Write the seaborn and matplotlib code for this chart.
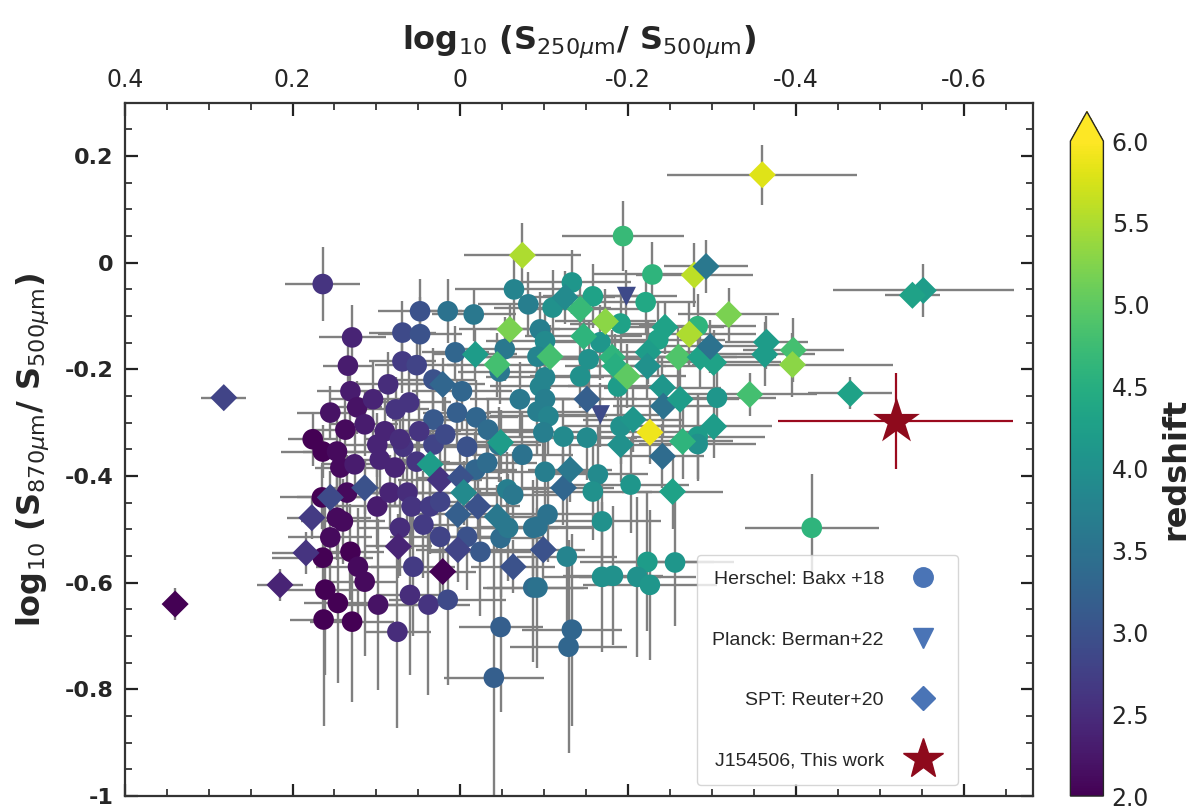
import numpy as np
import matplotlib
matplotlib.use("Agg")
import matplotlib.pyplot as plt
import seaborn as sns
from matplotlib.lines import Line2D
from matplotlib.colors import Normalize
import matplotlib.cm as cm
from matplotlib.ticker import MultipleLocator, FixedLocator, FixedFormatter

# ---------------- Herschel: Bakx+18 (circles) ----------------
h_x = [0.164, 0.129, 0.134, 0.131, 0.123, 0.137, 0.176, 0.164, 0.147, 0.143,
       0.155, 0.165, 0.147, 0.155, 0.164, 0.161, 0.146, 0.163, 0.126, 0.135,
       0.140, 0.131, 0.122, 0.114, 0.129, 0.099, 0.068, 0.032, -0.008, 0.096,
       0.078, 0.052, 0.099, 0.084, 0.063, 0.058, 0.036, 0.024, -0.056, -0.063,
       0.072, 0.044, 0.024, -0.008, -0.024, -0.048, -0.057, -0.087, 0.056, -0.087,
       0.098, 0.060, 0.038, 0.015, 0.075, -0.048, -0.040, 0.048, 0.015, -0.016,
       0.069, 0.048, 0.069, 0.052, 0.006, -0.053, -0.047, 0.032, -0.002, 0.086,
       0.104, 0.077, 0.061, 0.032, 0.004, -0.019, -0.071, 0.114, 0.090, 0.072,
       0.049, 0.018, -0.033, -0.046, -0.018, -0.032, -0.064, -0.081, -0.095, -0.133,
       -0.158, -0.110, -0.191, -0.229, -0.194, -0.101, -0.167, -0.092, -0.153, -0.143,
       -0.101, -0.188, -0.236, -0.283, -0.095, -0.101, -0.092, -0.105, -0.099, -0.123,
       -0.151, -0.191, -0.283, -0.074, -0.101, -0.164, -0.158, -0.203, -0.169, -0.104,
       -0.092, -0.127, -0.223, -0.256, -0.169, -0.182, -0.211, -0.226, -0.092, -0.133,
       -0.129, -0.419, -0.306, -0.221, -0.283]
h_y = [-0.040, -0.140, -0.193, -0.241, -0.271, -0.313, -0.331, -0.354, -0.354, -0.384,
       -0.281, -0.440, -0.478, -0.515, -0.553, -0.613, -0.638, -0.669, -0.378, -0.431,
       -0.485, -0.542, -0.570, -0.598, -0.673, -0.341, -0.345, -0.341, -0.345, -0.369,
       -0.384, -0.373, -0.457, -0.431, -0.431, -0.457, -0.457, -0.448, -0.425, -0.435,
       -0.497, -0.491, -0.514, -0.514, -0.542, -0.516, -0.497, -0.497, -0.570, -0.609,
       -0.641, -0.623, -0.641, -0.632, -0.692, -0.683, -0.778, -0.091, -0.091, -0.097,
       -0.131, -0.134, -0.185, -0.192, -0.168, -0.162, -0.204, -0.219, -0.241, -0.228,
       -0.256, -0.275, -0.262, -0.294, -0.281, -0.290, -0.256, -0.303, -0.316, -0.331,
       -0.316, -0.322, -0.313, -0.341, -0.388, -0.375, -0.050, -0.078, -0.125, -0.037,
       -0.063, -0.084, -0.114, -0.022, 0.050, -0.147, -0.149, -0.176, -0.181, -0.213,
       -0.215, -0.232, -0.144, -0.119, -0.232, -0.256, -0.279, -0.288, -0.318, -0.326,
       -0.328, -0.307, -0.326, -0.360, -0.392, -0.397, -0.429, -0.416, -0.485, -0.472,
       -0.495, -0.551, -0.561, -0.562, -0.589, -0.587, -0.589, -0.604, -0.609, -0.688,
       -0.720, -0.497, -0.253, -0.074, -0.340]
h_z = [2.6, 2.4, 2.3, 2.3, 2.2, 2.1, 2.0, 2.0, 2.1, 2.1,
       2.2, 2.0, 2.1, 2.1, 2.0, 2.0, 2.0, 2.0, 2.3, 2.1,
       2.1, 2.0, 2.1, 2.1, 2.0, 2.4, 2.6, 2.8, 3.0, 2.4,
       2.4, 2.6, 2.3, 2.4, 2.5, 2.6, 2.7, 2.8, 3.7, 3.6,
       2.5, 2.7, 2.8, 3.0, 3.1, 3.4, 3.6, 3.5, 2.7, 3.4,
       2.2, 2.5, 2.6, 2.9, 2.5, 3.2, 3.2, 3.0, 3.5, 3.6,
       2.9, 3.0, 2.7, 2.8, 3.3, 3.6, 3.6, 3.0, 3.3, 2.5,
       2.4, 2.6, 2.6, 3.1, 3.2, 3.3, 3.6, 2.3, 2.4, 2.5,
       2.6, 2.9, 3.4, 3.5, 3.3, 3.4, 3.8, 3.7, 3.7, 4.1,
       4.3, 4.0, 4.3, 4.6, 4.7, 3.9, 4.1, 3.8, 4.0, 4.0,
       3.8, 4.2, 4.3, 4.6, 3.8, 3.7, 3.7, 3.8, 3.7, 3.9,
       3.9, 4.0, 4.2, 3.5, 3.7, 3.9, 4.0, 4.1, 4.0, 3.5,
       3.5, 3.8, 4.2, 4.1, 4.0, 4.0, 4.0, 4.1, 3.5, 3.3,
       3.3, 4.6, 4.1, 4.4, 4.0]
h_xerr = [0.045, 0.040, 0.030, 0.040, 0.030, 0.040, 0.030, 0.050, 0.040, 0.030,
          0.040, 0.050, 0.040, 0.050, 0.060, 0.050, 0.040, 0.040, 0.040, 0.040,
          0.050, 0.040, 0.050, 0.040, 0.050, 0.050, 0.040, 0.050, 0.040, 0.040,
          0.050, 0.040, 0.050, 0.040, 0.050, 0.040, 0.050, 0.040, 0.050, 0.060,
          0.050, 0.040, 0.060, 0.050, 0.060, 0.050, 0.060, 0.070, 0.050, 0.060,
          0.050, 0.040, 0.050, 0.070, 0.040, 0.050, 0.060, 0.050, 0.040, 0.050,
          0.040, 0.050, 0.040, 0.050, 0.040, 0.060, 0.050, 0.050, 0.060, 0.040,
          0.050, 0.040, 0.050, 0.050, 0.040, 0.050, 0.060, 0.040, 0.050, 0.040,
          0.050, 0.050, 0.060, 0.050, 0.050, 0.060, 0.070, 0.060, 0.060, 0.070,
          0.060, 0.070, 0.060, 0.070, 0.073, 0.070, 0.060, 0.070, 0.070, 0.060,
          0.070, 0.060, 0.080, 0.070, 0.060, 0.070, 0.060, 0.070, 0.060, 0.070,
          0.060, 0.070, 0.080, 0.060, 0.070, 0.060, 0.070, 0.070, 0.070, 0.060,
          0.070, 0.060, 0.080, 0.070, 0.070, 0.060, 0.070, 0.080, 0.060, 0.060,
          0.070, 0.080, 0.070, 0.060, 0.070]
h_yerr = [0.070, 0.060, 0.050, 0.060, 0.050, 0.060, 0.050, 0.050, 0.070, 0.060,
          0.050, 0.060, 0.080, 0.090, 0.100, 0.160, 0.150, 0.200, 0.060, 0.070,
          0.080, 0.090, 0.110, 0.140, 0.150, 0.060, 0.060, 0.050, 0.060, 0.060,
          0.070, 0.060, 0.080, 0.070, 0.080, 0.080, 0.090, 0.080, 0.070, 0.080,
          0.090, 0.100, 0.110, 0.100, 0.120, 0.110, 0.100, 0.090, 0.130, 0.140,
          0.160, 0.150, 0.170, 0.160, 0.180, 0.160, 0.250, 0.060, 0.060, 0.050,
          0.060, 0.070, 0.060, 0.060, 0.050, 0.060, 0.060, 0.060, 0.070, 0.060,
          0.070, 0.060, 0.070, 0.060, 0.060, 0.070, 0.070, 0.060, 0.060, 0.070,
          0.060, 0.070, 0.060, 0.070, 0.070, 0.060, 0.060, 0.060, 0.070, 0.060,
          0.060, 0.070, 0.060, 0.060, 0.065, 0.060, 0.070, 0.060, 0.070, 0.060,
          0.070, 0.070, 0.070, 0.060, 0.060, 0.070, 0.080, 0.070, 0.080, 0.070,
          0.080, 0.070, 0.080, 0.080, 0.080, 0.090, 0.090, 0.090, 0.100, 0.090,
          0.100, 0.120, 0.130, 0.120, 0.140, 0.130, 0.150, 0.140, 0.150, 0.180,
          0.200, 0.100, 0.070, 0.060, 0.070]

# ---------------- Planck: Berman+22 (triangles) ----------------
p_x = [-0.198, -0.167]
p_y = [-0.063, -0.285]
p_z = [2.9, 2.9]
p_xerr = [0.060, 0.070]
p_yerr = [0.050, 0.060]

# ---------------- SPT: Reuter+20 (diamonds) ----------------
s_x = [-0.360, -0.074, -0.279, -0.293, -0.552, -0.539, -0.320, -0.125, -0.143, -0.173,
       -0.059, -0.018, -0.044, -0.147, -0.107, -0.181, -0.185, -0.199, -0.224, -0.244,
       -0.223, -0.273, -0.260, -0.286, -0.302, -0.298, -0.226, -0.241, -0.242, -0.151,
       -0.262, -0.302, -0.265, -0.206, -0.191, -0.241, -0.123, -0.131, -0.253, -0.099,
       0.036, 0.024, 0.000, -0.004, -0.048, 0.114, 0.003, -0.021, -0.044, 0.074,
       0.003, 0.021, -0.063, 0.155, 0.177, 0.184, 0.215, 0.340, 0.282, -0.345,
       -0.365, -0.363, -0.397, -0.396, -0.465, 0.021]
s_y = [0.165, 0.014, -0.023, -0.007, -0.052, -0.061, -0.097, -0.065, -0.087, -0.110,
       -0.125, -0.172, -0.191, -0.138, -0.176, -0.177, -0.194, -0.213, -0.168, -0.121,
       -0.194, -0.134, -0.177, -0.177, -0.187, -0.157, -0.318, -0.234, -0.269, -0.256,
       -0.256, -0.307, -0.335, -0.294, -0.341, -0.363, -0.422, -0.388, -0.429, -0.538,
       -0.378, -0.407, -0.403, -0.431, -0.337, -0.422, -0.472, -0.457, -0.476, -0.532,
       -0.538, -0.579, -0.570, -0.440, -0.478, -0.544, -0.604, -0.640, -0.253, -0.247,
       -0.149, -0.172, -0.164, -0.191, -0.245, -0.228]
s_z = [5.8, 5.5, 5.6, 3.6, 4.2, 4.3, 5.2, 3.9, 4.7, 5.3,
       5.2, 4.2, 4.8, 4.6, 4.8, 4.6, 4.5, 5.0, 4.2, 4.3,
       4.0, 5.5, 4.9, 4.3, 4.3, 3.5, 5.9, 4.1, 3.5, 3.2,
       4.2, 4.2, 4.6, 4.1, 4.0, 3.4, 3.3, 3.6, 4.3, 3.0,
       4.2, 2.6, 3.0, 3.9, 4.2, 3.0, 3.2, 3.0, 3.6, 2.4,
       2.8, 2.0, 3.0, 2.9, 2.7, 2.6, 2.4, 2.0, 2.8, 4.8,
       4.2, 4.2, 4.8, 5.3, 4.3, 3.3]
s_xerr = [0.113, 0.070, 0.070, 0.050, 0.108, 0.033, 0.060, 0.060, 0.070, 0.060,
          0.060, 0.050, 0.060, 0.070, 0.080, 0.070, 0.060, 0.070, 0.080, 0.070,
          0.060, 0.080, 0.070, 0.090, 0.080, 0.060, 0.060, 0.070, 0.060, 0.060,
          0.070, 0.070, 0.060, 0.060, 0.060, 0.050, 0.060, 0.050, 0.060, 0.050,
          0.050, 0.050, 0.050, 0.060, 0.050, 0.040, 0.050, 0.050, 0.060, 0.040,
          0.050, 0.040, 0.050, 0.040, 0.030, 0.040, 0.027, 0.000, 0.027, 0.080,
          0.050, 0.060, 0.060, 0.120, 0.050, 0.050]
s_yerr = [0.056, 0.060, 0.060, 0.050, 0.050, 0.015, 0.050, 0.050, 0.060, 0.060,
          0.050, 0.050, 0.060, 0.060, 0.060, 0.050, 0.060, 0.060, 0.060, 0.050,
          0.060, 0.060, 0.060, 0.060, 0.060, 0.050, 0.060, 0.060, 0.060, 0.060,
          0.070, 0.060, 0.070, 0.060, 0.070, 0.060, 0.070, 0.060, 0.070, 0.060,
          0.060, 0.060, 0.060, 0.060, 0.060, 0.050, 0.060, 0.060, 0.060, 0.060,
          0.060, 0.050, 0.050, 0.050, 0.040, 0.040, 0.030, 0.030, 0.000, 0.040,
          0.050, 0.060, 0.060, 0.060, 0.030, 0.050]

# ---------------- J154506 (this work) ----------------
j_x = [-0.519]
j_y = [-0.296]
j_xerr = [0.140]
j_yerr = [0.090]

x_ticks = [0.4, 0.2, 0.0, -0.2, -0.4, -0.6]
x_ticklabels = ["0.4", "0.2", "0", "-0.2", "-0.4", "-0.6"]
y_ticks = [0.2, 0.0, -0.2, -0.4, -0.6, -0.8, -1.0]
y_ticklabels = ["0.2", "0", "-0.2", "-0.4", "-0.6", "-0.8", "-1"]
cb_ticks = [2.0, 2.5, 3.0, 3.5, 4.0, 4.5, 5.0, 5.5, 6.0]

legend_labels = ["Herschel: Bakx +18", "Planck: Berman+22", "SPT: Reuter+20", "J154506, This work"]

# ---------------- plotting ----------------
sns.set_style("ticks")
plt.rcParams["font.family"] = ["DejaVu Sans"]
plt.rcParams["mathtext.fontset"] = "dejavusans"

fig = plt.figure(figsize=(12, 8.09), dpi=100)
ax = fig.add_axes([0.104, 0.016, 0.757, 0.857])
cax = fig.add_axes([0.892, 0.016, 0.0275, 0.846])

norm = Normalize(vmin=2.0, vmax=6.0)
cmap = plt.get_cmap("viridis")
err_col = "#808080"
ekw = dict(fmt="none", ecolor=err_col, elinewidth=1.7, capsize=0, zorder=1)

ax.errorbar(h_x, h_y, xerr=h_xerr, yerr=h_yerr, **ekw)
ax.errorbar(p_x, p_y, xerr=p_xerr, yerr=p_yerr, **ekw)
ax.errorbar(s_x, s_y, xerr=s_xerr, yerr=s_yerr, **ekw)

sns.scatterplot(x=h_x, y=h_y, hue=h_z, palette="viridis", hue_norm=norm,
                marker="o", s=220, linewidth=0, legend=False, ax=ax, zorder=3)
sns.scatterplot(x=p_x, y=p_y, hue=p_z, palette="viridis", hue_norm=norm,
                marker="v", s=190, linewidth=0, legend=False, ax=ax, zorder=3)
sns.scatterplot(x=s_x, y=s_y, hue=s_z, palette="viridis", hue_norm=norm,
                marker="D", s=190, linewidth=0, legend=False, ax=ax, zorder=4)

ax.errorbar(j_x, j_y, xerr=j_xerr, yerr=j_yerr, fmt="none", ecolor="#9b0a1e",
            elinewidth=1.6, capsize=0, zorder=5)
ax.scatter(j_x, j_y, marker="*", s=1250, color="#8e0a1c", linewidth=0, zorder=6)

ax.set_xlim(0.4, -0.683)
ax.set_ylim(-1.0, 0.3)
ax.xaxis.tick_top()
ax.xaxis.set_label_position("top")
ax.xaxis.set_major_locator(FixedLocator(x_ticks))
ax.xaxis.set_major_formatter(FixedFormatter(x_ticklabels))
ax.xaxis.set_minor_locator(MultipleLocator(0.05))
ax.yaxis.set_major_locator(FixedLocator(y_ticks))
ax.yaxis.set_major_formatter(FixedFormatter(y_ticklabels))
ax.yaxis.set_minor_locator(MultipleLocator(0.05))
ax.tick_params(axis="both", which="both", direction="in", top=True, bottom=True,
               left=True, right=True, labeltop=True, labelbottom=False,
               color="#222222")
ax.tick_params(axis="both", which="major", length=9, width=1.6)
ax.tick_params(axis="both", which="minor", length=5, width=1.2)
ax.tick_params(axis="x", labelsize=17, pad=8)
ax.tick_params(axis="y", labelsize=16, pad=8)
for lab in ax.get_yticklabels():
    lab.set_fontweight("bold")
for sp in ax.spines.values():
    sp.set_linewidth(1.6)
    sp.set_color("#333333")

ax.set_xlabel(r"log$_{10}$ (S$_{250\mu\mathrm{m}}$/ S$_{500\mu\mathrm{m}}$)",
              fontsize=23, fontweight="bold", labelpad=14)
ax.set_ylabel(r"log$_{10}$ (S$_{870\mu\mathrm{m}}$/ S$_{500\mu\mathrm{m}}$)",
              fontsize=23, fontweight="bold", labelpad=10)

sm = cm.ScalarMappable(norm=norm, cmap=cmap)
cb = fig.colorbar(sm, cax=cax, extend="max", extendfrac=0.045, ticks=cb_ticks)
cb.ax.set_yticklabels([f"{t:.1f}" for t in cb_ticks])
cb.ax.tick_params(labelsize=17, length=0, pad=6)
cb.outline.set_linewidth(1.0)
cb.set_label("redshift", fontsize=23, fontweight="bold", labelpad=8)

leg_col = "#4a74b6"
handles = [
    Line2D([], [], marker="o", linestyle="None", color=leg_col, markersize=14),
    Line2D([], [], marker="v", linestyle="None", color=leg_col, markersize=14),
    Line2D([], [], marker="D", linestyle="None", color=leg_col, markersize=12),
    Line2D([], [], marker="*", linestyle="None", color="#8e0a1c", markersize=30),
]
leg = ax.legend(handles, legend_labels, loc="lower right", bbox_to_anchor=(0.917, 0.016),
                markerfirst=False, labelspacing=2.2, handletextpad=1.0,
                borderpad=0.8, borderaxespad=0.0, frameon=True, fancybox=True,
                prop={"family": ["Liberation Sans", "DejaVu Sans"], "size": 14})
leg.get_frame().set_edgecolor("#cccccc")
leg.get_frame().set_linewidth(1.0)

fig.savefig("out.png", dpi=100)
